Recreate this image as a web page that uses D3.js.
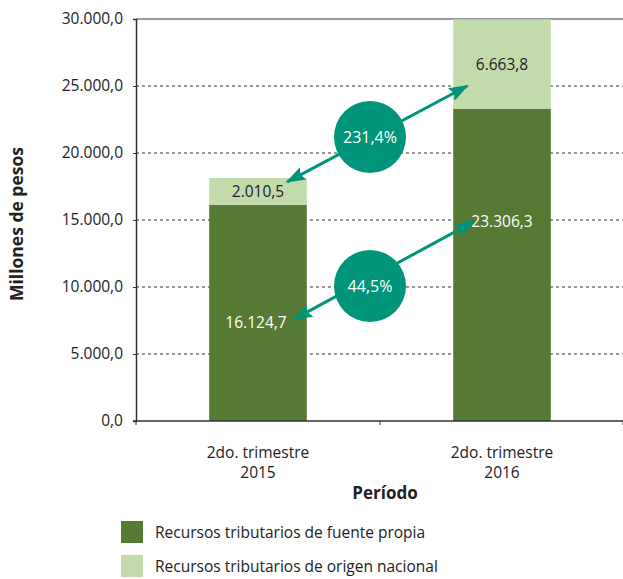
<!DOCTYPE html>
<html>
<head>
<meta charset="utf-8">
<script src="https://cdn.jsdelivr.net/npm/d3@7"></script>
<style>
  body { margin: 0; background: #fff; }
  text { font-family: "Open Sans", sans-serif; fill: #222; }
</style>
</head>
<body>
<div id="chart"></div>
<script>
// data
var periods = ["2do. trimestre|2015", "2do. trimestre|2016"];
var propia = [16124.7, 23306.3];
var nacional = [2010.5, 6663.8];
var propiaLabels = ["16.124,7", "23.306,3"];
var nacionalLabels = ["2.010,5", "6.663,8"];
var yTicks = [0, 5000, 10000, 15000, 20000, 25000, 30000];
var growth = ["231,4%", "44,5%"];
var seriesNames = ["Recursos tributarios de fuente propia", "Recursos tributarios de origen nacional"];

var width = 623, height = 579;
var plotLeft = 136, plotRight = 624, plotTop = 19, plotBottom = 421;
var darkGreen = "#557a33", lightGreen = "#c3dbab", teal = "#00957a";

var svg = d3.select("#chart").append("svg")
    .attr("width", width)
    .attr("height", height);

var x = d3.scaleBand()
    .domain(periods)
    .range([plotLeft, plotRight])
    .paddingInner(0.6)
    .paddingOuter(0.3);

var slot = d3.scaleBand().domain(periods).range([plotLeft, plotRight]);

var y = d3.scaleLinear().domain([0, 30000]).range([plotBottom, plotTop]);

var fmt = function(v) {
    return d3.format(",.1f")(v).replace(/,/g, "#").replace(".", ",").replace(/#/g, ".");
};

// gridlines
svg.append("g").selectAll("line")
    .data(yTicks.slice(1, -1))
    .enter().append("line")
    .attr("x1", plotLeft).attr("x2", plotRight)
    .attr("y1", function(d) { return y(d); })
    .attr("y2", function(d) { return y(d); })
    .attr("stroke", "#333")
    .attr("stroke-width", 1)
    .attr("stroke-dasharray", "3,3");

svg.append("line")
    .attr("x1", plotLeft).attr("x2", plotRight)
    .attr("y1", y(30000)).attr("y2", y(30000))
    .attr("stroke", "#7a7a7a").attr("stroke-width", 1.5);

// bars
var bars = svg.append("g");
bars.selectAll(".propia")
    .data(propia)
    .enter().append("rect")
    .attr("x", function(d, i) { return x(periods[i]); })
    .attr("y", function(d) { return y(d); })
    .attr("width", x.bandwidth())
    .attr("height", function(d) { return y(0) - y(d); })
    .attr("fill", darkGreen);

bars.selectAll(".nacional")
    .data(nacional)
    .enter().append("rect")
    .attr("x", function(d, i) { return x(periods[i]); })
    .attr("y", function(d, i) { return y(propia[i] + d); })
    .attr("width", x.bandwidth())
    .attr("height", function(d, i) { return y(propia[i]) - y(propia[i] + d); })
    .attr("fill", lightGreen);

// y axis
var yAxis = svg.append("g")
    .attr("transform", "translate(" + plotLeft + ",0)")
    .call(d3.axisLeft(y).tickValues(yTicks).tickFormat(fmt).tickSize(3).tickPadding(10));
yAxis.select(".domain").attr("stroke", "#333").attr("stroke-width", 1.5);
yAxis.selectAll("line").attr("stroke", "#333");
yAxis.selectAll("text").attr("font-size", 15.5).attr("font-family", "Open Sans").attr("fill", "#222");

// x axis line and ticks
svg.append("line")
    .attr("x1", plotLeft - 3).attr("x2", plotRight)
    .attr("y1", plotBottom).attr("y2", plotBottom)
    .attr("stroke", "#333").attr("stroke-width", 1.5);
svg.append("g").selectAll("line")
    .data([plotLeft, slot(periods[1]), plotRight - 1])
    .enter().append("line")
    .attr("x1", function(d) { return d; }).attr("x2", function(d) { return d; })
    .attr("y1", plotBottom).attr("y2", plotBottom + 4)
    .attr("stroke", "#333");

// category labels
var cat = svg.append("g").selectAll("text")
    .data(periods)
    .enter().append("text")
    .attr("text-anchor", "middle")
    .attr("font-size", 15.5);
cat.each(function(d) {
    var parts = d.split("|");
    var t = d3.select(this);
    parts.forEach(function(p, k) {
        t.append("tspan")
            .attr("x", x(d) + x.bandwidth() / 2)
            .attr("y", 458 + k * 20)
            .text(p);
    });
});

// axis titles
svg.append("text")
    .attr("x", slot(periods[1]) + 5).attr("y", 499)
    .attr("text-anchor", "middle")
    .attr("font-size", 17).attr("font-weight", "bold")
    .text("Período");

svg.append("text")
    .attr("transform", "translate(23," + 224 + ") rotate(-90)")
    .attr("text-anchor", "middle")
    .attr("font-size", 17.5).attr("font-weight", "bold")
    .text("Millones de pesos");

// value labels
svg.append("g").selectAll("text")
    .data(nacional)
    .enter().append("text")
    .attr("x", function(d, i) { return x(periods[i]) + x.bandwidth() / 2; })
    .attr("y", function(d, i) { return y(propia[i] + d / 2) + 6; })
    .attr("text-anchor", "middle")
    .attr("font-size", 15.5)
    .text(function(d, i) { return nacionalLabels[i]; });

var innerPos = [0.46, 0.64];
svg.append("g").selectAll("text")
    .data(propia)
    .enter().append("text")
    .attr("x", function(d, i) { return x(periods[i]) + x.bandwidth() / 2 - (i === 0 ? 2 : 0); })
    .attr("y", function(d, i) { return y(d * innerPos[i]) + 6; })
    .attr("text-anchor", "middle")
    .attr("font-size", 15.5)
    .style("fill", "#fff")
    .text(function(d, i) { return propiaLabels[i]; });

// arrows
var defs = svg.append("defs");
defs.append("marker")
    .attr("id", "head")
    .attr("viewBox", "0 0 20 14")
    .attr("refX", 18).attr("refY", 7)
    .attr("markerUnits", "userSpaceOnUse")
    .attr("markerWidth", 20).attr("markerHeight", 14)
    .attr("orient", "auto-start-reverse")
    .append("path")
    .attr("d", "M0,0 L20,7 L0,14 L3,7 Z")
    .attr("fill", teal);

var b1 = x(periods[0]), b2 = x(periods[1]), bw = x.bandwidth();
var arrows = [
    { x1: b1 + bw * 0.8, y1: y(17850), x2: b2 + 14, y2: y(25000), cy: 21200 },
    { x1: b1 + bw * 0.87, y1: y(7600), x2: b2 + 21, y2: y(14900), cy: 10070 }
];
svg.append("g").selectAll("line")
    .data(arrows)
    .enter().append("line")
    .attr("x1", function(d) { return d.x1; }).attr("y1", function(d) { return d.y1; })
    .attr("x2", function(d) { return d.x2; }).attr("y2", function(d) { return d.y2; })
    .attr("stroke", teal).attr("stroke-width", 3)
    .attr("marker-start", "url(#head)")
    .attr("marker-end", "url(#head)");

var bubbles = svg.append("g").selectAll("g")
    .data(arrows)
    .enter().append("g")
    .attr("transform", function(d) { return "translate(" + (slot(periods[1]) - 10) + "," + y(d.cy) + ")"; });
bubbles.append("circle").attr("r", 36).attr("fill", teal);
bubbles.append("text")
    .attr("text-anchor", "middle")
    .attr("y", 6)
    .attr("font-size", 16)
    .style("fill", "#fff")
    .text(function(d, i) { return growth[i]; });

// legend
var legend = svg.append("g").selectAll("g")
    .data(seriesNames)
    .enter().append("g")
    .attr("transform", function(d, i) { return "translate(121," + (521 + i * 34) + ")"; });
legend.append("rect")
    .attr("width", 22).attr("height", 22)
    .attr("fill", function(d, i) { return i === 0 ? darkGreen : lightGreen; });
legend.append("text")
    .attr("x", 34).attr("y", 17)
    .attr("font-size", 15.5)
    .text(function(d) { return d; });
</script>
</body>
</html>
